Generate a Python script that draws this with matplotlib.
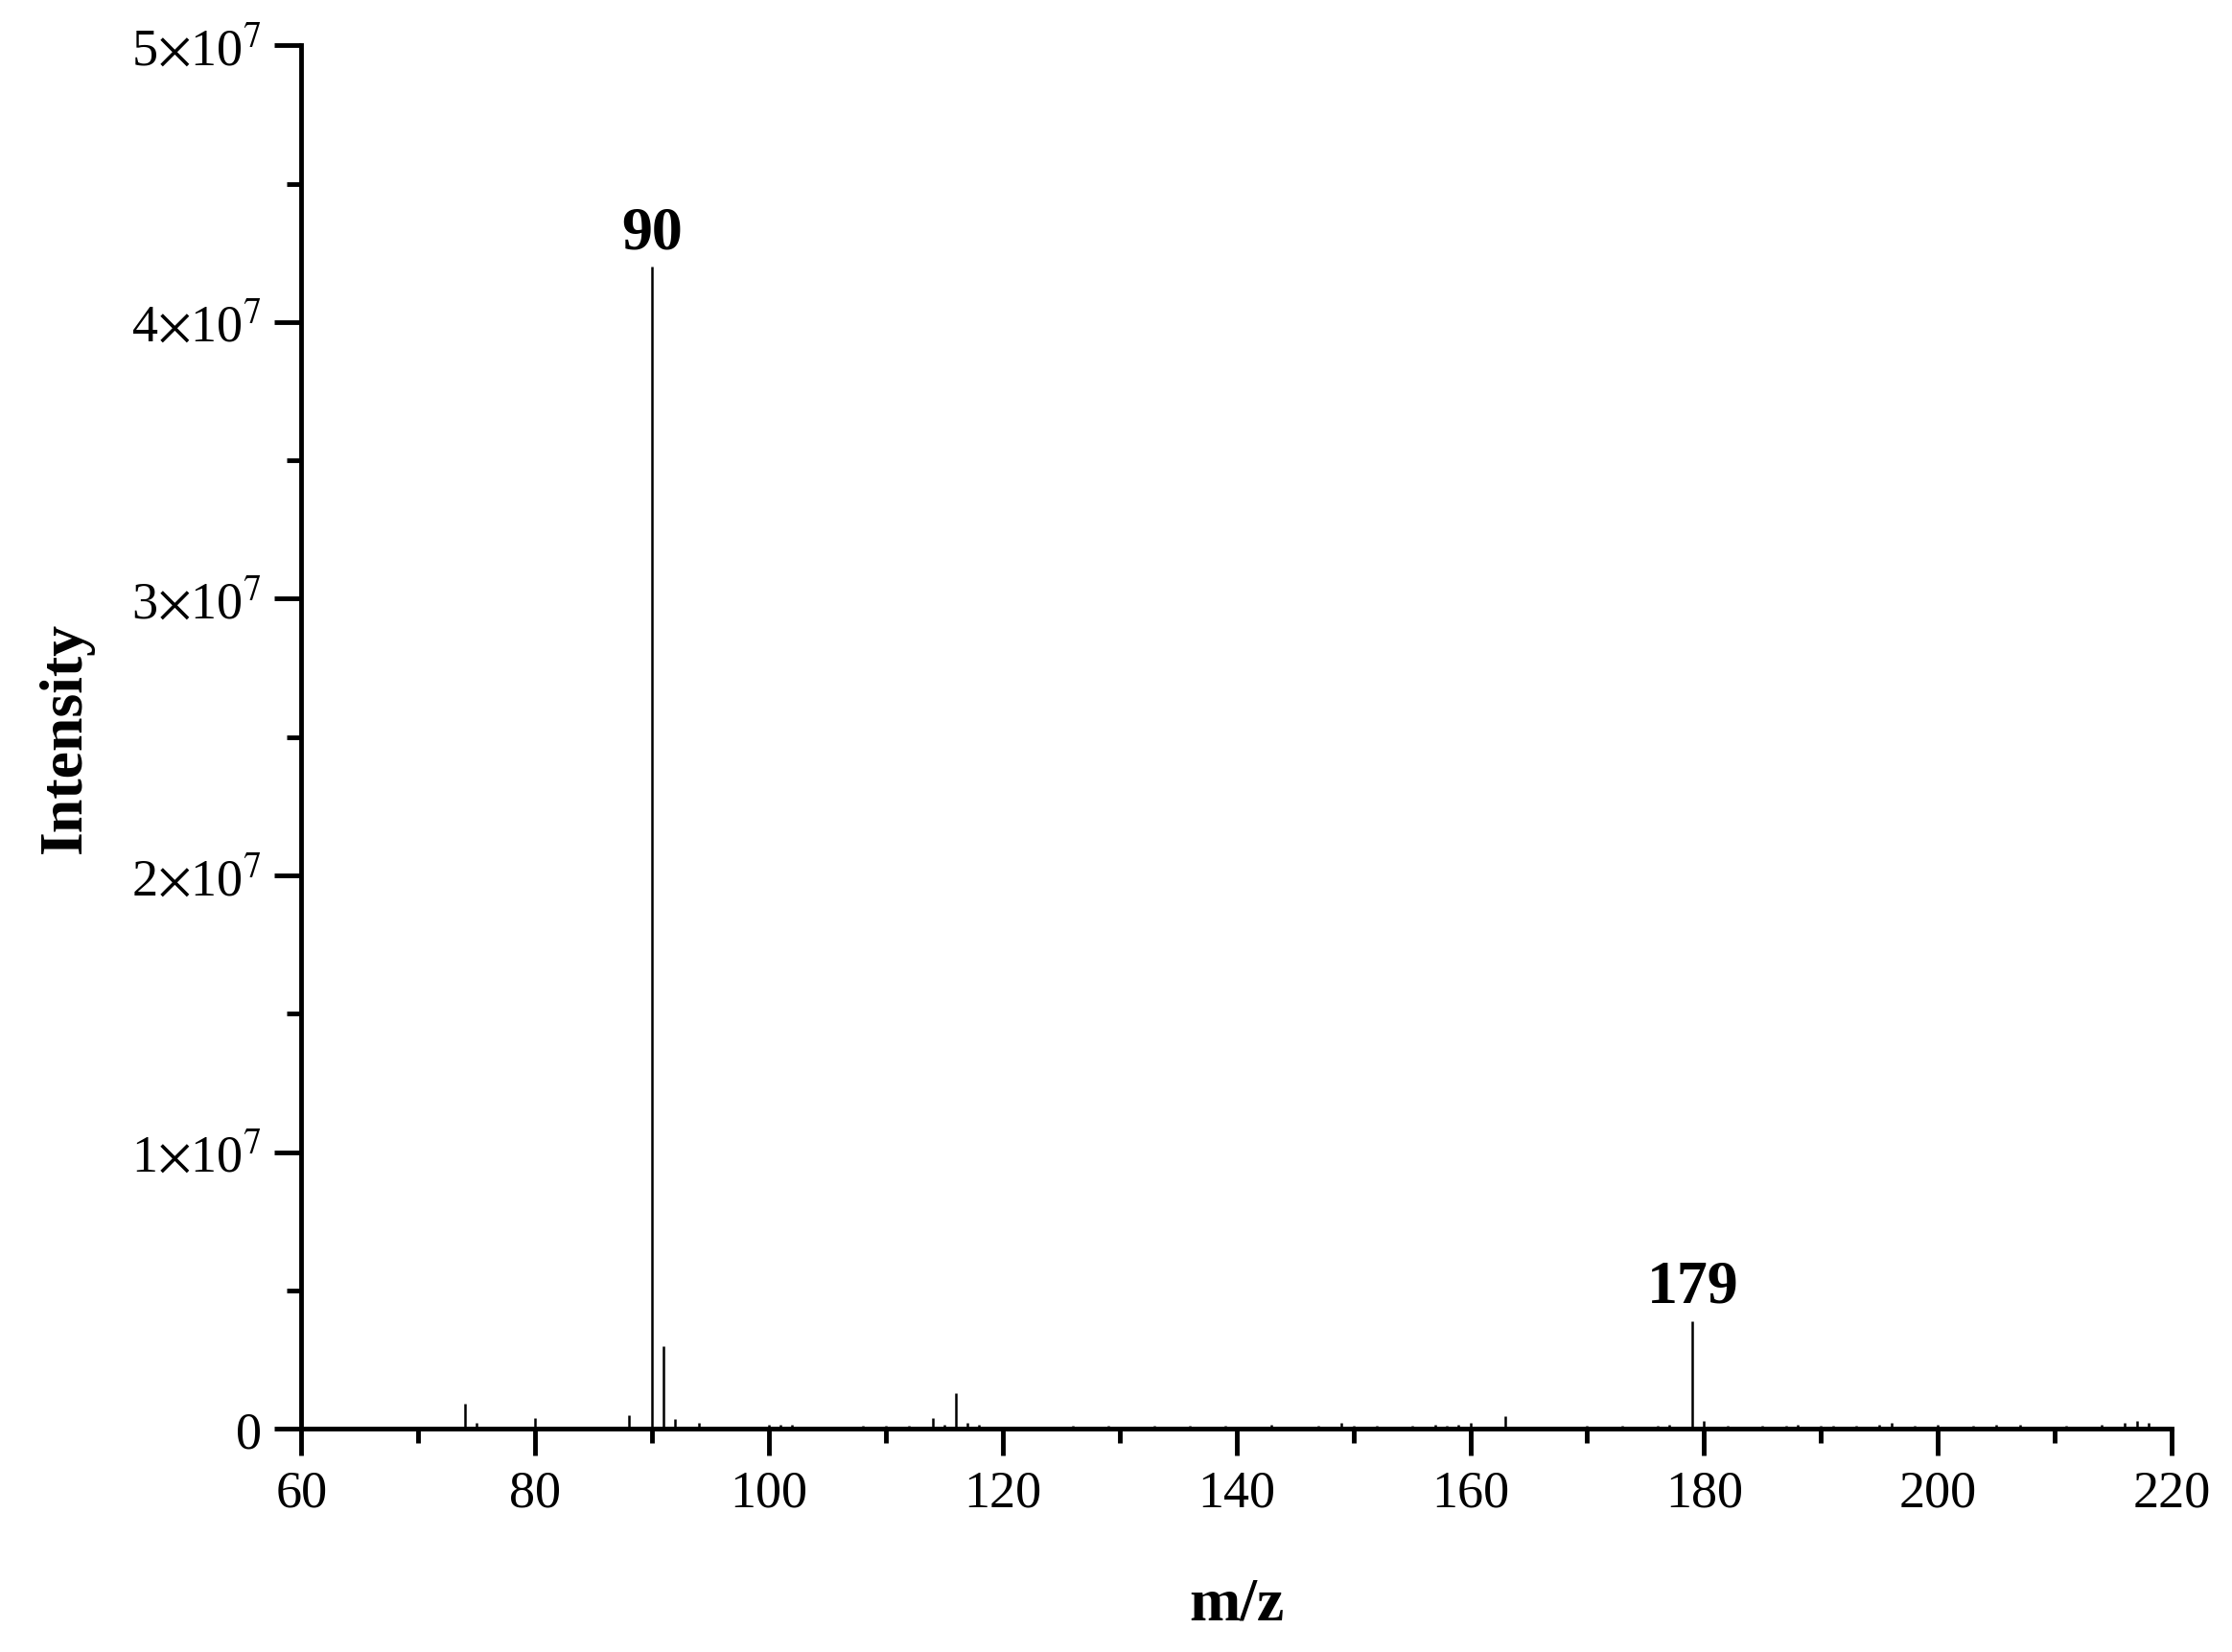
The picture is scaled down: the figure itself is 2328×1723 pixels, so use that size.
import matplotlib
matplotlib.use("Agg")
import matplotlib.pyplot as plt
import numpy as np

# peaks (m/z, intensity)
mz = [74, 75, 80, 88, 90, 91, 92, 94, 100, 101, 102, 108, 110, 112, 114, 115, 116, 117, 118,
      126, 129, 133, 136, 139, 143, 147, 149, 150, 152, 155, 157, 158, 159, 160, 163, 170, 173,
      176, 177, 179, 180, 182, 185, 187, 188, 190, 191, 193, 195, 196, 198, 200, 203, 205, 207,
      211, 214, 216, 217, 218]
intensity = [0.9e6, 0.2e6, 0.4e6, 0.5e6, 4.2e7, 3.0e6, 0.35e6, 0.2e6, 0.15e6, 0.15e6, 0.15e6,
             0.1e6, 0.12e6, 0.12e6, 0.4e6, 0.15e6, 1.3e6, 0.2e6, 0.15e6,
             0.1e6, 0.12e6, 0.1e6, 0.1e6, 0.12e6, 0.15e6, 0.1e6, 0.2e6, 0.12e6, 0.1e6, 0.12e6,
             0.15e6, 0.12e6, 0.15e6, 0.2e6, 0.45e6, 0.1e6, 0.12e6, 0.12e6, 0.15e6, 3.9e6, 0.3e6,
             0.12e6, 0.1e6, 0.12e6, 0.15e6, 0.12e6, 0.1e6, 0.12e6, 0.15e6, 0.2e6, 0.12e6, 0.15e6,
             0.12e6, 0.15e6, 0.15e6, 0.12e6, 0.15e6, 0.2e6, 0.3e6, 0.2e6]
labels = {90: "90", 179: "179"}
yticks = [0, 1e7, 2e7, 3e7, 4e7, 5e7]
ytick_labels = ["0", r"1$\times$10$^7$", r"2$\times$10$^7$", r"3$\times$10$^7$",
                r"4$\times$10$^7$", r"5$\times$10$^7$"]

plt.rcParams["font.family"] = "Liberation Serif"
plt.rcParams["mathtext.fontset"] = "stix"

fig = plt.figure(figsize=(23.28, 17.24), dpi=100)
ax = fig.add_axes([0.135, 0.135, 0.838, 0.837])

ax.vlines(mz, 0, intensity, color="black", linewidth=1.8)
for m, txt in labels.items():
    h = intensity[mz.index(m)]
    ax.text(m, h + 2e5, txt, ha="center", va="bottom", fontsize=46, fontweight="bold")

ax.set_xlim(60, 220)
ax.set_ylim(0, 5e7)
ax.set_xticks(np.arange(60, 221, 20))
ax.set_xticks(np.arange(70, 220, 20), minor=True)
ax.set_yticks(yticks)
ax.set_yticklabels(ytick_labels)
ax.set_yticks(np.arange(5e6, 5e7, 1e7), minor=True)
ax.axhline(0, color="black", linewidth=3.5)

for s in ["top", "right"]:
    ax.spines[s].set_visible(False)
for s in ["left", "bottom"]:
    ax.spines[s].set_linewidth(3.5)
ax.tick_params(which="major", direction="out", length=20, width=3.5, labelsize=39, pad=10)
ax.tick_params(which="minor", direction="out", length=11, width=3.5)

ax.set_xlabel("m/z", fontsize=46, fontweight="bold", labelpad=45)
ax.set_ylabel("Intensity", fontsize=46, fontweight="bold", labelpad=28)

fig.savefig("out.png", dpi=100, facecolor="white")
